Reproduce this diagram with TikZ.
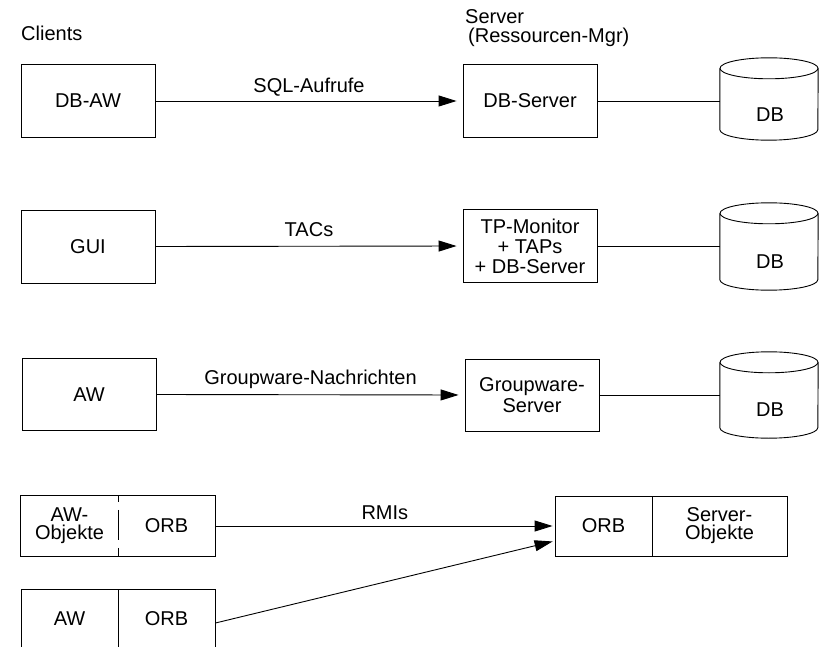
\documentclass[tikz,border=0pt]{standalone}
\usepackage{fontspec}
\setmainfont{Liberation Sans}
\usetikzlibrary{arrows.meta,calc}
\begin{document}
\begin{tikzpicture}[x=1pt,y=-1pt,
  every node/.style={font=\fontsize{20}{20}\selectfont, inner sep=0pt},
  box/.style={draw, line width=0.9pt, minimum width=134pt, minimum height=73pt, align=center},
  half/.style={minimum width=97pt, minimum height=60pt, align=center},
  dbcyl/.style={minimum width=98pt, minimum height=82pt},
  conn/.style={line width=0.9pt},
  arr/.style={line width=0.9pt, -{Triangle[length=18pt,width=11pt]}},
  lbl/.style={midway, anchor=base}
]
\useasboundingbox (0,0) rectangle (819,647);

% headers
\node[anchor=base west] (clients) at (21,41) {Clients};
\node[anchor=base west] (srv) at (465,24) {Server};
\node[anchor=base west] (srvmgr) at (468,43) {(Ressourcen-Mgr)};

% row 1
\node[box] (dbaw) at (88,101) {DB-AW};
\node[box] (dbsrv) at (530,101) {DB-Server};
\node[dbcyl] (db1) at (769,99) {};
\node (db1t) at (770,115) {DB};
\draw[arr, shorten >=6pt] (dbaw.east) -- node[lbl, yshift=8pt] {SQL-Aufrufe} (dbsrv.west);
\draw[conn] (dbsrv.east) -- (db1.west |- dbsrv.east);

% row 2
\node[box] (gui) at (88,246.5) {GUI};
\node[box, font=\fontsize{20}{20}\selectfont] (tp) at (530,246) {TP-Monitor\\+ TAPs\\+ DB-Server};
\node[dbcyl, minimum height=87pt] (db2) at (769,246.5) {};
\node (db2t) at (770,262) {DB};
\draw[arr, shorten >=6pt] (gui.east) -- node[lbl, yshift=10pt] {TACs} (tp.west);
\draw[conn] (tp.east) -- (db2.west |- tp.east);

% row 3
\node[box, minimum height=72pt] (aw) at (89,394.5) {AW};
\node[box, minimum height=72pt, font=\fontsize{20}{21.5}\selectfont] (gw) at (532,395) {Groupware-\\Server};
\node[dbcyl, minimum height=86pt] (db3) at (769,395) {};
\node (db3t) at (770,410) {DB};
\draw[arr, shorten >=6pt] (aw.east) -- node[lbl, yshift=10pt] {Groupware-Nachrichten} (gw.west);
\draw[conn] (gw.east) -- (db3.west |- gw.east);

% cylinders
\foreach \d in {db1,db2,db3}{
  \draw[conn] ([yshift=-10.5pt]\d.north) ellipse [x radius=49pt, y radius=10.5pt];
  \draw[conn] ([yshift=-10.5pt]\d.north west) -- ([yshift=10.5pt]\d.south west)
     arc[start angle=180, end angle=360, x radius=49pt, y radius=10.5pt]
     -- ([yshift=-10.5pt]\d.north east);
}

% row 4
\node[half, font=\fontsize{20}{18}\selectfont] (awo) at (69.5,526) {AW-\\Objekte};
\node[half] (orb1) at (166.5,526) {ORB};
\draw[conn] (awo.north west) rectangle (orb1.south east);
\draw[conn, dash pattern=on 6pt off 8pt on 30pt off 8pt on 8pt off 10pt] (awo.north east) -- (awo.south east);

\node[half, draw, line width=0.9pt] (aw2) at (69.5,619) {AW};
\node[half, draw, line width=0.9pt] (orb2) at (166.5,619) {ORB};

\node[half, draw, line width=0.9pt] (sorb) at (603.5,526) {ORB};
\node[half, draw, line width=0.9pt, minimum width=135pt, font=\fontsize{20}{18}\selectfont] (sobj) at (719.5,526) {Server-\\Objekte};

\draw[arr, shorten >=2pt] (orb1.east) -- node[lbl, yshift=7pt] {RMIs} (sorb.west);
\draw[arr, shorten >=2pt] ([yshift=-4pt]orb2.east) -- ([yshift=-15pt]sorb.west);
\end{tikzpicture}
\end{document}
